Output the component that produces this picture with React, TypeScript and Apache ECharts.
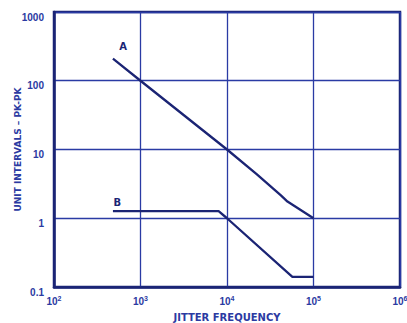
import React, { useEffect, useRef } from "react";
import * as echarts from "echarts";

const xTickExponents = ["2", "3", "4", "5", "6"];
const yTickLabels = ["0.1", "1", "10", "100", "1000"];
const seriesA: [number, number][] = [
  [480, 210],
  [1000, 100],
  [10000, 10],
  [22000, 4.4],
  [42000, 2.15],
  [50000, 1.75],
  [100000, 1.0],
];
const seriesB: [number, number][] = [
  [480, 1.27],
  [8000, 1.27],
  [10000, 1.0],
  [57000, 0.14],
  [100000, 0.14],
];
const labelA: [number, number] = [630, 310];
const labelB: [number, number] = [540, 1.67];

const INK = "#1b2474";
const GRID = "#2a3ba4";
const TEXT = "#2b3aa2";
const FONT = "'Liberation Sans', Arial, sans-serif";
const WIDE = "'DejaVu Sans', Verdana, sans-serif";

export default function App() {
  const ref = useRef<HTMLDivElement>(null);
  useEffect(() => {
    if (!ref.current) return;
    const chart = echarts.init(ref.current, undefined, { renderer: "svg" });
    const xMap: Record<string, string> = {
      "100": xTickExponents[0],
      "1000": xTickExponents[1],
      "10000": xTickExponents[2],
      "100000": xTickExponents[3],
      "1000000": xTickExponents[4],
    };
    const yMap: Record<string, string> = {
      "0.1": yTickLabels[0],
      "1": yTickLabels[1],
      "10": yTickLabels[2],
      "100": yTickLabels[3],
      "1000": yTickLabels[4],
    };
    chart.setOption({
      animation: false,
      backgroundColor: "#ffffff",
      grid: {
        left: 54,
        right: 7,
        top: 12,
        bottom: 36,
        show: true,
        borderColor: INK,
        borderWidth: 2.5,
        containLabel: false,
        outerBoundsMode: "none",
      },
      xAxis: {
        type: "log",
        logBase: 10,
        min: 100,
        max: 1000000,
        name: "JITTER FREQUENCY",
        nameLocation: "middle",
        nameGap: 25,
        nameMoveOverlap: false,
        nameTextStyle: { color: TEXT, fontFamily: WIDE, fontWeight: "bold", fontSize: 10 },
        axisLine: { show: true, lineStyle: { color: INK, width: 2.5 } },
        axisTick: { show: false },
        splitLine: { show: true, lineStyle: { color: GRID, width: 1.3 } },
        axisLabel: {
          color: TEXT,
          fontFamily: FONT,
          fontWeight: "bold",
          fontSize: 10,
          margin: 8,
          formatter: (v: number) => {
            const e = xMap[String(Math.round(v))];
            return e ? `{b|10}{s|${e}}` : "";
          },
          rich: {
            b: { color: TEXT, fontFamily: FONT, fontWeight: "bold", fontSize: 10, verticalAlign: "bottom" },
            s: { color: TEXT, fontFamily: FONT, fontWeight: "bold", fontSize: 7, verticalAlign: "top", padding: [0, 0, 4, 0] },
          },
        },
      },
      yAxis: {
        type: "log",
        logBase: 10,
        min: 0.1,
        max: 1000,
        name: "UNIT INTERVALS – PK-PK",
        nameLocation: "middle",
        nameGap: 32,
        nameMoveOverlap: false,
        nameTextStyle: { color: TEXT, fontFamily: WIDE, fontWeight: "bold", fontSize: 9 },
        axisLine: { show: true, lineStyle: { color: INK, width: 2.5 } },
        axisTick: { show: false },
        splitLine: { show: true, lineStyle: { color: GRID, width: 1.3 } },
        axisLabel: {
          color: TEXT,
          fontFamily: FONT,
          fontWeight: "bold",
          fontSize: 10,
          margin: 10,
          verticalAlign: "top",
          formatter: (v: number) => yMap[String(Number(v.toPrecision(3)))] ?? "",
        },
      },
      series: [
        {
          type: "line",
          name: "A",
          data: seriesA,
          symbol: "none",
          lineStyle: { color: INK, width: 2.3 },
          markPoint: {
            symbol: "circle",
            symbolSize: 0,
            data: [{ coord: labelA, value: "A" }],
            label: { show: true, formatter: "A", color: INK, fontFamily: WIDE, fontWeight: "bold", fontSize: 10, position: "inside" },
          },
        },
        {
          type: "line",
          name: "B",
          data: seriesB,
          symbol: "none",
          lineStyle: { color: INK, width: 2.3 },
          markPoint: {
            symbol: "circle",
            symbolSize: 0,
            data: [{ coord: labelB, value: "B" }],
            label: { show: true, formatter: "B", color: INK, fontFamily: WIDE, fontWeight: "bold", fontSize: 10, position: "inside" },
          },
        },
      ],
    });
    return () => chart.dispose();
  }, []);
  return <div ref={ref} style={{ width: 407, height: 323, position: "absolute", left: 0, top: 0 }} />;
}
